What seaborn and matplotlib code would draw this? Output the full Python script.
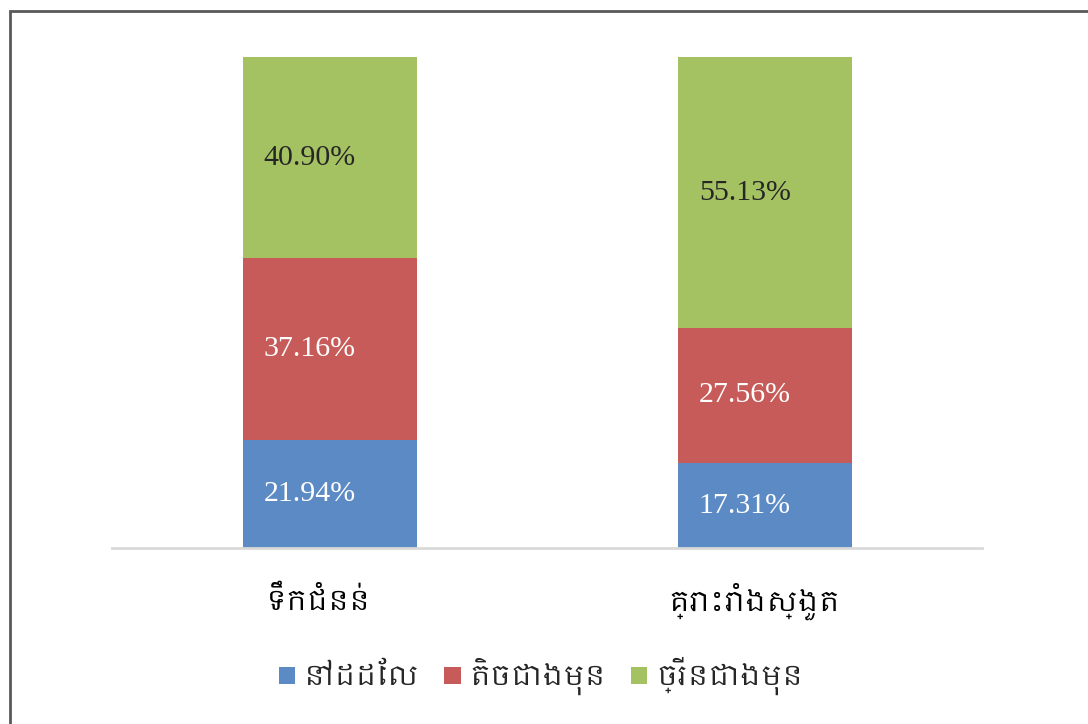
import matplotlib
matplotlib.use("Agg")
import matplotlib.pyplot as plt
import matplotlib.font_manager as fm
from matplotlib.patches import Patch, Rectangle
import pandas as pd
import seaborn as sns

# data
categories = ["ទឹកជំនន់", "គ្រោះរាំងស្ងួត"]
series_names = ["នៅដដែល", "តិចជាងមុន", "ច្រើនជាងមុន"]
same = [21.94, 17.31]
less = [37.16, 27.56]
more = [40.90, 55.13]
colors = ["#5B8AC4", "#C75B59", "#A5C263"]
label_colors = ["white", "white", "#262626"]

sns.set_theme(style="white")

# look for a font that can draw Khmer, fall back to DejaVu
khmer = [f.name for f in fm.fontManager.ttflist if "khmer" in f.name.lower()]
khmer_family = [khmer[0], "DejaVu Sans"] if khmer else ["DejaVu Sans"]
num_family = ["Liberation Serif", "DejaVu Serif"]

df = pd.DataFrame({"cat": categories, "same": same, "less": less, "more": more})
df["c1"] = df["same"]
df["c2"] = df["same"] + df["less"]
df["c3"] = df["c2"] + df["more"]

fig = plt.figure(figsize=(10.88, 7.24), dpi=100)
ax = fig.add_axes([0.103, 0.243, 0.8, 0.678])

# stacked bars drawn as cumulative layers, tallest first
for col, c in zip(["c3", "c2", "c1"], colors[::-1]):
    sns.barplot(data=df, x="cat", y=col, color=c, width=0.4,
                saturation=1, ax=ax, linewidth=0)

ax.set_xlim(-0.5, 1.5)
ax.set_ylim(0, 100)
ax.set_xlabel("")
ax.set_ylabel("")
ax.set_yticks([])
ax.set_xticks([])
for s in ["top", "left", "right"]:
    ax.spines[s].set_visible(False)
ax.spines["bottom"].set_color("#D9D9D9")
ax.spines["bottom"].set_linewidth(2)

# value labels
for i in range(len(categories)):
    bottoms = [0, df["c1"][i], df["c2"][i]]
    vals = [same[i], less[i], more[i]]
    for b, v, tc in zip(bottoms, vals, label_colors):
        ax.text(i - 0.046, b + v / 2, f"{v:.2f}%", ha="center", va="center",
                color=tc, fontsize=21.5, family=num_family)

# category labels
for i, cat in enumerate(categories):
    ax.text(i - 0.025, -10.8, cat, ha="center", va="center", fontsize=20,
            family=khmer_family, color="black")

handles = [Patch(facecolor=c, edgecolor="none") for c in colors]
leg = fig.legend(handles, series_names, loc="center", bbox_to_anchor=(0.497, 0.066),
                 ncol=3, frameon=False, handlelength=0.6, handleheight=0.6,
                 handletextpad=0.3, columnspacing=0.9,
                 prop=fm.FontProperties(family=khmer_family, size=20))

# outer frame, cropped like the reference
fig.patches.append(Rectangle((0.0092, -0.05), 1.2, 1.035, transform=fig.transFigure,
                             fill=False, edgecolor="#595959", linewidth=2))

fig.savefig("out.png", dpi=100)
